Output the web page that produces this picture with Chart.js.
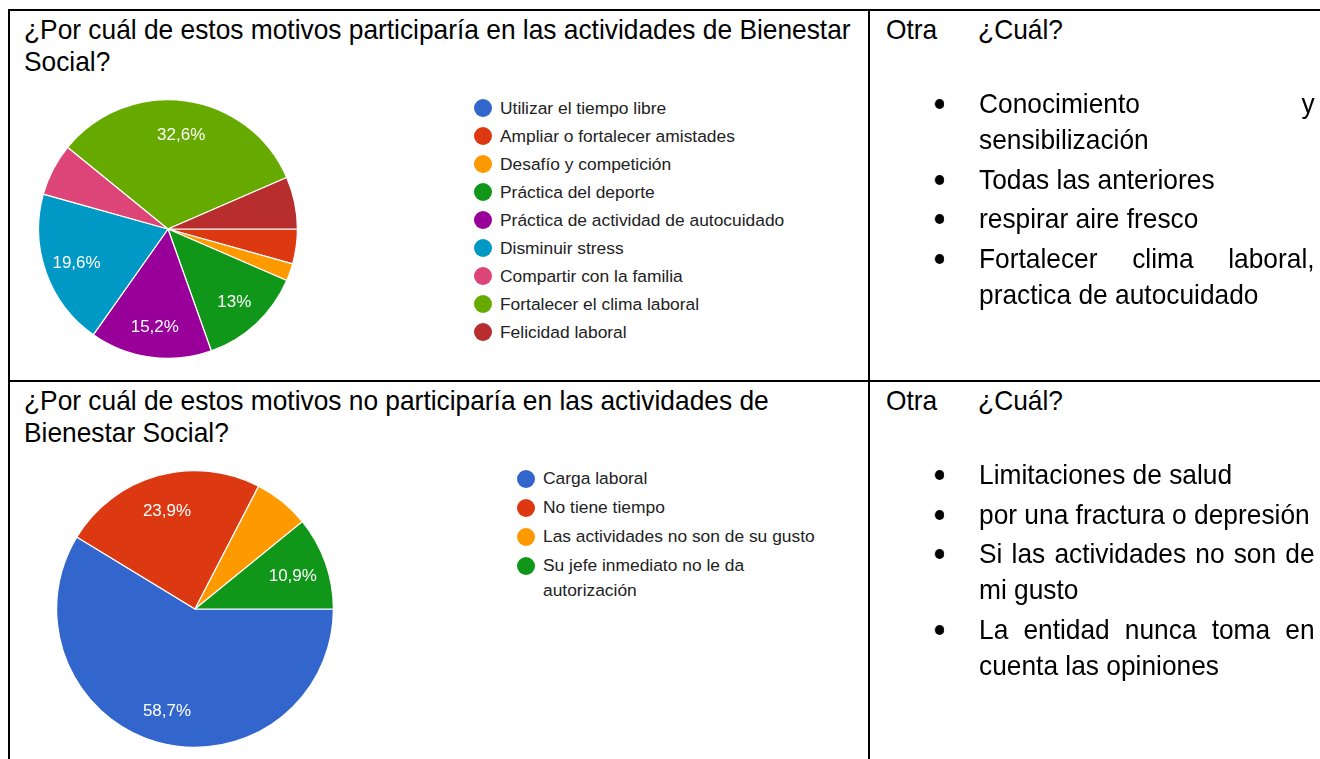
<!DOCTYPE html>
<html>
<head>
<meta charset="utf-8">
<script src="https://cdn.jsdelivr.net/npm/chart.js@4"></script>
<style>
  body { margin: 0; background: #fff; width: 1320px; height: 759px; overflow: hidden; position: relative; }
  .line { position: absolute; background: #000; }
  /* the document font is a narrow sans, so squeeze Liberation Sans a little */
  .narrow { font-family: "Liberation Sans", Arial, sans-serif; color: #000; font-size: 28px;
            transform: scaleX(0.94); transform-origin: 0 0; position: absolute; }
  .title, .otra { line-height: 32px; }
  .otra span { display: inline-block; width: 98px; }
  ul.other { margin: 0; padding: 0; list-style: none; line-height: 36px; text-align: justify; }
  ul.other li { position: relative; margin-bottom: 3.6px; }
  ul.other li::before { content: ""; position: absolute; left: -47px; top: 13px; width: 10px; height: 10px; border-radius: 50%; background: #000; }
  .pie { position: absolute; }
  .legend { position: absolute; font-family: "Liberation Sans", Arial, sans-serif; font-size: 17.4px; color: #222; }
  .legend div { position: relative; padding-left: 26px; }
  .legend i { position: absolute; left: 0; width: 18px; height: 18px; border-radius: 50%; }
</style>
</head>
<body>
<div class="line" style="left:8px;top:9px;width:1312px;height:2px"></div>
<div class="line" style="left:8px;top:9px;width:2px;height:750px"></div>
<div class="line" style="left:868px;top:9px;width:2px;height:750px"></div>
<div class="line" style="left:8px;top:380px;width:1312px;height:2px"></div>

<div class="title narrow" style="left:24px;top:14px;width:899px">¿Por cuál de estos motivos participaría en las actividades de Bienestar Social?</div>
<div class="title narrow" style="left:24px;top:385px;width:851px">¿Por cuál de estos motivos no participaría en las actividades de Bienestar Social?</div>

<div class="otra narrow" style="left:886px;top:14px"><span>Otra</span>¿Cuál?</div>
<div class="otra narrow" style="left:886px;top:385px"><span>Otra</span>¿Cuál?</div>

<ul class="other narrow" id="other1" style="left:979px;top:86px;width:357px"></ul>
<ul class="other narrow" id="other2" style="left:979px;top:457px;width:357px"></ul>

<div class="pie" style="left:38px;top:99px;width:260px;height:260px"><canvas id="pie1"></canvas></div>
<div class="legend" id="legend1" style="left:474px;top:96px"></div>

<div class="pie" style="left:56px;top:470px;width:278px;height:278px"><canvas id="pie2"></canvas></div>
<div class="legend" id="legend2" style="left:517px;top:466px;width:318px"></div>

<script>
// Motivos para participar (46 respuestas)
const reasonsYes = ['Utilizar el tiempo libre', 'Ampliar o fortalecer amistades', 'Desafío y competición',
    'Práctica del deporte', 'Práctica de actividad de autocuidado', 'Disminuir stress',
    'Compartir con la familia', 'Fortalecer el clima laboral', 'Felicidad laboral'];
const countsYes = [0, 2, 1, 6, 7, 9, 3, 15, 3];

// Motivos para no participar (46 respuestas)
const reasonsNo = ['Carga laboral', 'No tiene tiempo', 'Las actividades no son de su gusto',
    'Su jefe inmediato no le da autorización'];
const countsNo = [27, 11, 3, 5];

const otherYes = ['Conocimiento y sensibilización', 'Todas las anteriores', 'respirar aire fresco',
    'Fortalecer clima laboral, practica de autocuidado'];
const otherNo = ['Limitaciones de salud', 'por una fractura o depresión',
    'Si las actividades no son de mi gusto', 'La entidad nunca toma en cuenta las opiniones'];

const palette = ['#3366cc', '#dc3912', '#ff9900', '#109618', '#990099', '#0099c6', '#dd4477', '#66aa00', '#b82e2e'];

function fmtPct(v, total) {
    const p = (v / total * 100).toFixed(1).replace('.', ',');
    return p.replace(/,0$/, '') + '%';
}

// white percentage text inside the bigger slices
const sliceLabels = {
    id: 'sliceLabels',
    afterDatasetsDraw(chart) {
        const ctx = chart.ctx;
        const data = chart.data.datasets[0].data;
        const total = data.reduce((a, b) => a + b, 0);
        chart.getDatasetMeta(0).data.forEach((arc, i) => {
            if (data[i] / total < 0.08) return;
            const mid = (arc.startAngle + arc.endAngle) / 2;
            const r = arc.outerRadius * 0.75;
            ctx.save();
            ctx.font = '17px "Liberation Sans", Arial, sans-serif';
            ctx.fillStyle = '#fff';
            ctx.textAlign = 'center';
            ctx.textBaseline = 'middle';
            ctx.fillText(fmtPct(data[i], total), arc.x + Math.cos(mid) * r, arc.y + Math.sin(mid) * r + 2);
            ctx.restore();
        });
    }
};

function makePie(id, labels, values) {
    return new Chart(document.getElementById(id), {
        type: 'pie',
        data: {
            labels,
            datasets: [{
                data: values,
                backgroundColor: palette.slice(0, values.length),
                borderColor: '#fff',
                borderWidth: 1.2
            }]
        },
        options: {
            responsive: true,
            maintainAspectRatio: false,
            animation: false,
            rotation: 90,
            plugins: { legend: { display: false }, tooltip: { enabled: false } }
        },
        plugins: [sliceLabels]
    });
}

function makeLegend(id, labels, lineH, gap) {
    document.getElementById(id).innerHTML = labels.map((l, i) =>
        `<div style="line-height:${lineH}px;margin-bottom:${gap}px"><i style="top:${(lineH - 18) / 2}px;background:${palette[i]}"></i>${l}</div>`
    ).join('');
}

function makeList(id, items) {
    document.getElementById(id).innerHTML = items.map(t => `<li>${t}</li>`).join('');
}

makePie('pie1', reasonsYes, countsYes);
makePie('pie2', reasonsNo, countsNo);
makeLegend('legend1', reasonsYes, 24, 4);
makeLegend('legend2', reasonsNo, 25, 4);
makeList('other1', otherYes);
makeList('other2', otherNo);
</script>
</body>
</html>
